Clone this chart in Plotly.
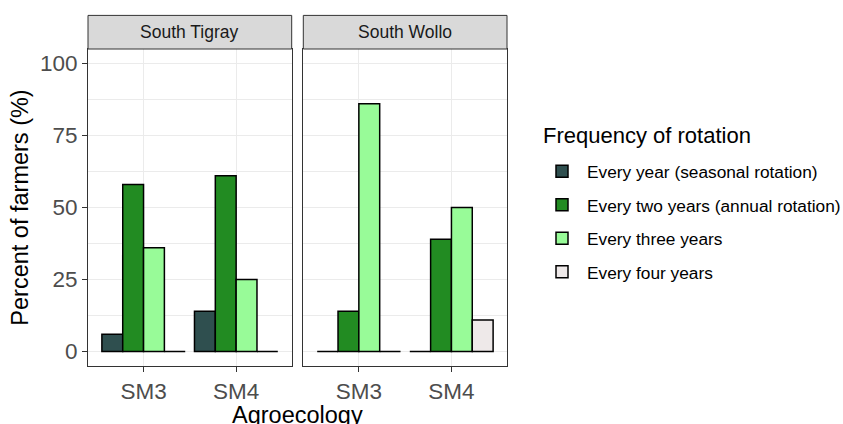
import plotly.graph_objects as go
from plotly.subplots import make_subplots

regions = ["South Tigray", "South Wollo"]
agroecology = ["SM3", "SM4"]
frequencies = [
    "Every year (seasonal rotation)",
    "Every two years (annual rotation)",
    "Every three years",
    "Every four years",
]
colors = ["#2F4F4F", "#228B22", "#98FB98", "#EEE9E9"]

# percent of farmers, per frequency, for [SM3, SM4]
tigray_year = [6, 14]
tigray_two = [58, 61]
tigray_three = [36, 25]
tigray_four = [0, 0]

wollo_year = [0, 0]
wollo_two = [14, 39]
wollo_three = [86, 50]
wollo_four = [0, 11]

y_ticks = [0, 25, 50, 75, 100]

data = {
    "South Tigray": [tigray_year, tigray_two, tigray_three, tigray_four],
    "South Wollo": [wollo_year, wollo_two, wollo_three, wollo_four],
}

FONT = "Liberation Sans, Arial, sans-serif"

fig = make_subplots(rows=1, cols=2, shared_yaxes=True, horizontal_spacing=0.0277)

for ci, region in enumerate(regions):
    for fi, freq in enumerate(frequencies):
        fig.add_trace(
            go.Bar(
                x=agroecology,
                y=data[region][fi],
                name=freq,
                legendgroup=freq,
                showlegend=(ci == 0),
                marker=dict(color=colors[fi], line=dict(color="black", width=1.5)),
            ),
            row=1, col=ci + 1,
        )

fig.update_layout(
    width=880, height=424,
    margin=dict(l=88, r=373, t=49, b=58, autoexpand=False),
    paper_bgcolor="white", plot_bgcolor="white",
    barmode="group", bargap=0.1, bargroupgap=0,
    font=dict(family=FONT, color="black"),
    legend=dict(
        font=dict(size=17.3, color="black"),
        x=1.0716, xanchor="left", y=0.67, yanchor="top",
        itemwidth=40,
        tracegroupgap=8, bgcolor="rgba(0,0,0,0)",
    ),
)

axis_common = dict(
    showline=True, linecolor="#333333", linewidth=1, mirror=True,
    ticks="outside", ticklen=5, tickcolor="#333333", tickwidth=1,
    tickfont=dict(size=22.5, color="#4D4D4D", family=FONT),
    showgrid=True, gridcolor="#EBEBEB", gridwidth=1.3, zeroline=False,
)

for ci in range(2):
    fig.update_xaxes(
        range=[-0.6, 1.6], row=1, col=ci + 1, **axis_common,
    )
    fig.update_yaxes(
        range=[-5, 105], tickvals=y_ticks, row=1, col=ci + 1,
        minor=dict(dtick=12.5, tick0=0, showgrid=True, gridcolor="#EBEBEB", gridwidth=0.7, ticks=""),
        **axis_common,
    )

fig.update_yaxes(
    title=dict(text="Percent of farmers (%)", font=dict(size=23.5, color="black"), standoff=4),
    row=1, col=1,
)
fig.update_yaxes(showticklabels=False, ticks="", row=1, col=2)

fig.add_annotation(
    text="Agroecology", xref="paper", yref="paper", x=0.5, y=-0.107,
    xanchor="center", yanchor="top", showarrow=False,
    font=dict(size=23.5, color="black", family=FONT),
)

fig.add_annotation(
    text="Frequency of rotation", xref="paper", yref="paper", x=1.081, y=0.7287,
    xanchor="left", yanchor="middle", showarrow=False,
    font=dict(size=22, color="black", family=FONT),
)

# facet strips
for ci, region in enumerate(regions):
    xr = "x domain" if ci == 0 else "x2 domain"
    yr = "y domain" if ci == 0 else "y2 domain"
    fig.add_shape(
        type="rect", xref=xr, yref=yr, x0=0, x1=1, y0=1, y1=1.106,
        fillcolor="#D9D9D9", line=dict(color="#333333", width=1), layer="above",
    )
    fig.add_annotation(
        text=region, xref=xr, yref=yr, x=0.5, y=1.053,
        xanchor="center", yanchor="middle", showarrow=False,
        font=dict(size=17.5, color="#1A1A1A", family=FONT),
    )

fig.write_html(
    "out.html",
    config={"displayModeBar": False},
    post_script="document.body.style.margin='0';document.body.style.overflow='hidden';",
)
